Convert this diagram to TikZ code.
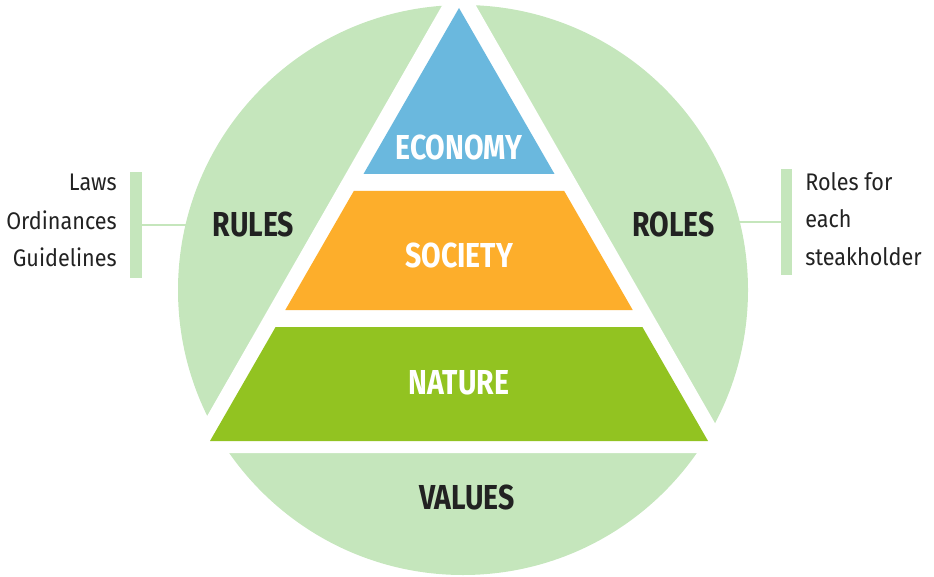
\documentclass[tikz,border=0pt]{standalone}
\usepackage{fontspec}
\setmainfont{Fira Sans}
\newfontfamily\notefont{Fira Sans}[FakeStretch=0.9]
\newfontfamily\labelfont{Fira Sans}[FakeStretch=0.82]
\usepackage{tikz}

\definecolor{leaf}{HTML}{C5E6BC}
\definecolor{economy}{HTML}{6AB8DE}
\definecolor{society}{HTML}{FDAE2B}
\definecolor{nature}{HTML}{92C321}
\definecolor{ink}{HTML}{222222}

\tikzset{
  layer/.style={font=\labelfont\bfseries\fontsize{26}{26}\selectfont, text=white, inner sep=0pt},
  pillar/.style={font=\labelfont\bfseries\fontsize{26}{26}\selectfont, text=ink, inner sep=0pt},
  note/.style={font=\notefont\fontsize{18}{18}\selectfont, text=ink, inner sep=0pt},
  bar/.style={fill=leaf, inner sep=0pt, minimum width=8.5pt, minimum height=80pt},
  link/.style={leaf, line width=1.5pt},
}

\begin{document}
\begin{tikzpicture}[x=0.75pt, y=-0.75pt]
\useasboundingbox (0,0) rectangle (934,577);
% Side notes
\foreach \t [count=\i] in {Laws,Ordinances,Guidelines}
    \node[note, anchor=base east] (rule\i) at (117,153+38*\i) {\t};
\foreach \t [count=\i] in {Roles for,each,steakholder}
    \node[note, anchor=base west] (role\i) at (805,153+37.5*\i) {\t};
\node[bar] (rulesbar) at (136,225) {};
\node[bar] (rolesbar) at (786.5,222) {};
\coordinate (rulesedge) at (200,225);
\coordinate (rolesedge) at (725,222);
\draw[link] (rulesbar) -- (rulesedge);
\draw[link] (rolesbar) -- (rolesedge);
% Circle and white gap
\fill[leaf] (463,290) circle (285);
\fill[white] (459,-24) -- (186,453) -- (732,453) -- cycle;
% Pyramid
\fill[economy] (459,8) -- (363.5,174) -- (554.5,174) -- cycle;
\fill[society] (353.8,191) -- (564.2,191) -- (632.7,310) -- (285.3,310) -- cycle;
\fill[nature] (275.6,327) -- (642.4,327) -- (708,441) -- (210,441) -- cycle;
% Labels
\node[layer] (economy) at (459,147) {ECONOMY};
\node[layer] (society) at (459,255.5) {SOCIETY};
\node[layer] (nature) at (459,383) {NATURE};
\node[pillar] (rules) at (253.5,224.5) {RULES};
\node[pillar] (roles) at (673.5,224.5) {ROLES};
\node[pillar] (values) at (467,497) {VALUES};
\end{tikzpicture}
\end{document}
